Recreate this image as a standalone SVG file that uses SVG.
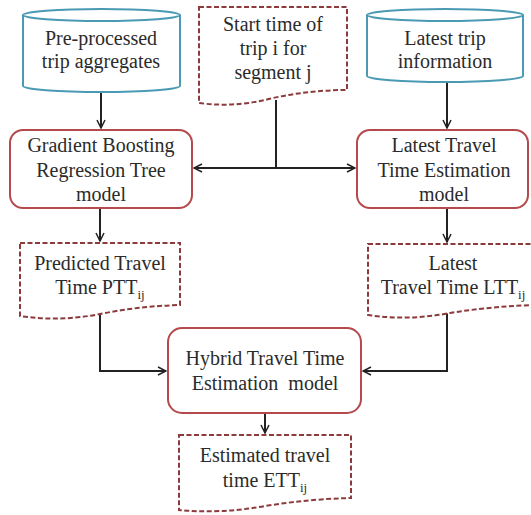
<svg xmlns="http://www.w3.org/2000/svg" width="531" height="515" viewBox="0 0 531 515" font-family="Liberation Serif, DejaVu Serif, serif">
<style>
text{font-size:20px;fill:#2b2b2b;text-anchor:middle;white-space:pre}
.sub{font-size:13px}
.cyl{fill:#fff;stroke:#4a9ab4;stroke-width:2}
.box{fill:#fff;stroke:#b5494b;stroke-width:2}
.doc{fill:#fff;stroke:#8c3a3c;stroke-width:2;stroke-dasharray:5 2.5}
.con{fill:none;stroke:#222;stroke-width:2}
</style>
<defs>
<marker id="ah" viewBox="0 0 10 10" refX="9" refY="5" markerWidth="5" markerHeight="5" orient="auto-start-reverse" markerUnits="strokeWidth">
<path d="M1,1 L9,5 L1,9" fill="none" stroke="#222" stroke-width="1.5"/>
</marker>
</defs>
<rect width="531" height="515" fill="#fff"/>
<g id="connectors">
<line class="con" x1="101" y1="92" x2="101" y2="128" marker-end="url(#ah)"/>
<line class="con" x1="447" y1="83" x2="447" y2="128" marker-end="url(#ah)"/>
<line class="con" x1="276" y1="100" x2="276" y2="168"/>
<line class="con" x1="194" y1="168" x2="355" y2="168" marker-start="url(#ah)" marker-end="url(#ah)"/>
<line class="con" x1="100" y1="208" x2="100" y2="241" marker-end="url(#ah)"/>
<line class="con" x1="447" y1="208" x2="447" y2="242" marker-end="url(#ah)"/>
<polyline class="con" points="100,314 100,371 166,371" marker-end="url(#ah)"/>
<polyline class="con" points="447,313 447,371 363,371" marker-end="url(#ah)"/>
<line class="con" x1="265" y1="413" x2="265" y2="433" marker-end="url(#ah)"/>
</g>
<g id="preprocessed">
<path class="cyl" d="M23,15 V86 A78.5,6 0 0 0 180,86 V15"/>
<ellipse class="cyl" cx="101.5" cy="15" rx="78.5" ry="6"/>
<text x="101" y="45">Pre-processed</text>
<text x="101" y="68">trip aggregates</text>
</g>
<g id="starttime">
<path class="doc" d="M199,7 H347 V90 Q310,90 273,98 Q236,108 199,103 Z"/>
<text x="273" y="31">Start time of</text>
<text x="273" y="55">trip i for</text>
<text x="273" y="79">segment j</text>
</g>
<g id="latesttrip">
<path class="cyl" d="M367,15 V76 A78,6 0 0 0 523,76 V15"/>
<ellipse class="cyl" cx="445" cy="15" rx="78" ry="6"/>
<text x="445" y="45">Latest trip</text>
<text x="445" y="68">information</text>
</g>
<g id="gbrt">
<rect class="box" x="10" y="130" width="182" height="78" rx="13"/>
<text x="101" y="152">Gradient Boosting</text>
<text x="101" y="177">Regression Tree</text>
<text x="101" y="201">model</text>
</g>
<g id="ltte">
<rect class="box" x="357" y="130" width="171" height="78" rx="13"/>
<text x="444" y="152">Latest Travel</text>
<text x="444" y="177">Time Estimation</text>
<text x="444" y="201">model</text>
</g>
<g id="ptt">
<path class="doc" d="M20,243 H180 V305 Q140,306 100,314 Q60,322 20,316 Z"/>
<text x="100" y="270">Predicted Travel</text>
<text x="100" y="294">Time PTT<tspan class="sub" dy="5">ij</tspan></text>
</g>
<g id="ltt">
<path class="doc" d="M368,244 H538 V305 Q493,306 450,313 Q408,321 368,315 Z"/>
<text x="453" y="270">Latest</text>
<text x="453" y="294">Travel Time LTT<tspan class="sub" dy="5">ij</tspan></text>
</g>
<g id="hybrid">
<rect class="box" x="168" y="328" width="193" height="85" rx="14"/>
<text x="265" y="365">Hybrid Travel Time</text>
<text x="265" y="390">Estimation  model</text>
</g>
<g id="ett">
<path class="doc" d="M179,435 H351 V498 Q309,499 265,506 Q221,514 179,510 Z"/>
<text x="265" y="462">Estimated travel</text>
<text x="265" y="487">time ETT<tspan class="sub" dy="5">ij</tspan></text>
</g>
</svg>
